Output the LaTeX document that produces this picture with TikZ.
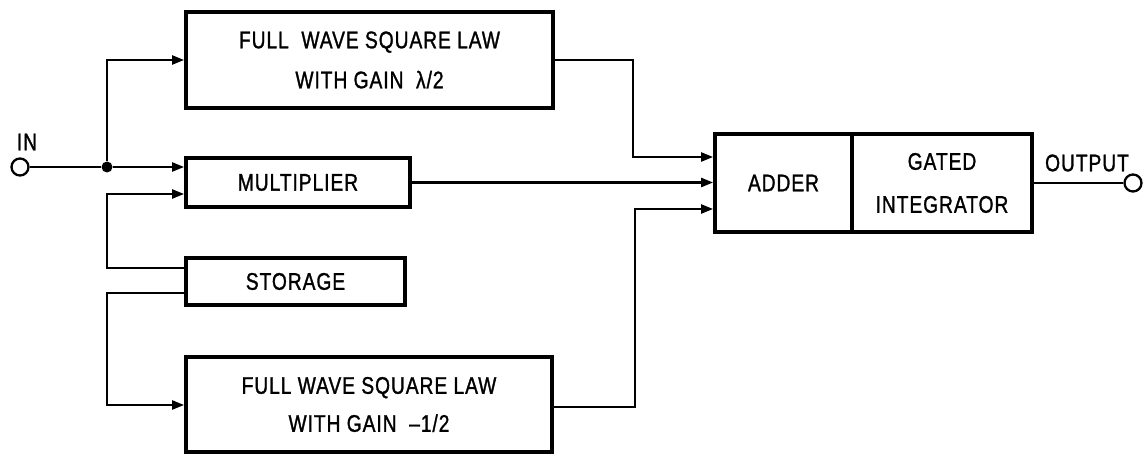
\documentclass[tikz,border=0pt]{standalone}
\usepackage{fontspec}
\setmainfont[FakeStretch=0.8,FakeBold=1.2,LetterSpace=4]{Liberation Sans}
\usetikzlibrary{arrows.meta}
\newcommand\dgf[1]{\fontsize{24}{#1}\selectfont}
\begin{document}
\begin{tikzpicture}[x=1pt,y=-1pt,
  blk/.style={draw, line width=3.8pt, inner sep=0pt, align=center},
  conn/.style={line width=2.3pt},
  arr/.style={conn, -{Triangle[length=12pt,width=9pt]}},
  term/.style={draw, circle, line width=2.3pt, inner sep=0pt, minimum size=17pt, fill=white},
  lbl/.style={font=\dgf{28}, inner sep=0pt}
]
\useasboundingbox (0,0) rectangle (1147,457);

% blocks
\node[blk, minimum width=367pt, minimum height=96pt, font=\dgf{40}] (top) at (369.5,60)
  {FULL\ \ WAVE SQUARE LAW\\WITH GAIN\ \ λ/2};
\node[blk, minimum width=224pt, minimum height=49pt, font=\dgf{28}] (mult) at (298,182.5) {MULTIPLIER};
\node[blk, minimum width=219pt, minimum height=47pt, font=\dgf{28}] (stor) at (295.5,281.5) {STORAGE};
\node[blk, minimum width=366pt, minimum height=95pt, font=\dgf{38}] (bot) at (369,404.5)
  {FULL WAVE SQUARE LAW\\WITH GAIN\ \ –1/2};
\node[blk, minimum width=137pt, minimum height=98pt, font=\dgf{28}] (add) at (783.5,183) {ADDER};
\node[blk, minimum width=180pt, minimum height=98pt, font=\dgf{43}] (gate) at (942,183) {GATED\\INTEGRATOR};

% terminals
\node[term] (in) at (20,167) {};
\node[term] (out) at (1133,183) {};
\node[lbl] (inl) at (27,142) {IN};
\node[lbl] (outl) at (1087,163) {OUTPUT};
\node[circle, fill, inner sep=0pt, minimum size=11pt] (jn) at (107,167) {};

\coordinate (tr) at (633,60);
\coordinate (br) at (635,407);

% connectors
\draw[conn] (in) -- (jn);
\draw[arr] (jn) -- (mult.west |- jn);
\draw[arr] (jn) |- (top.west);
\draw[arr] (stor.west |- 0,268) -| (jn |- 0,230) |- (mult.west |- 0,194);
\draw[arr] (stor.west |- 0,293) -| (jn |- 0,350) |- (bot.west |- 0,405);
\draw[arr] (top.east) -| (tr |- 0,110) |- (add.west |- 0,157);
\draw[arr] (mult.east) -- (add.west |- mult.east);
\draw[arr] (bot.east |- br) -| (br |- 0,300) |- (add.west |- 0,209);
\draw[conn] (gate.east) -- (out);
\end{tikzpicture}
\end{document}
